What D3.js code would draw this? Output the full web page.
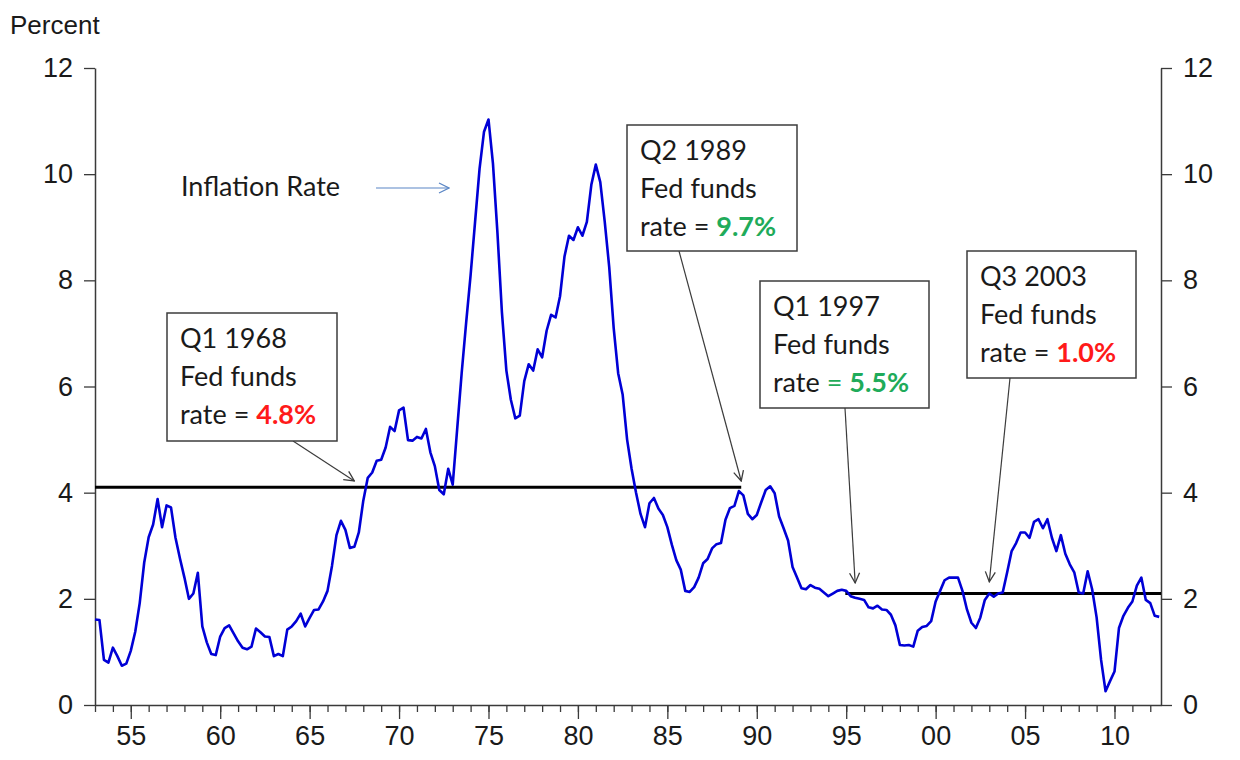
<!DOCTYPE html>
<html>
<head>
<meta charset="utf-8">
<script src="https://cdn.jsdelivr.net/npm/d3@7"></script>
<style>
  body { margin: 0; background: #fff; }
  svg { display: block; }
</style>
</head>
<body>
<div class="chart"></div>
<script>
// quarterly inflation (first value = 1953 Q1)
const startYear = 1953
const infl1950s = [1.61, 1.60, 0.85, 0.80, 1.08, 0.92, 0.74, 0.78, 1.02, 1.38, 1.92, 2.68,
  3.16, 3.40, 3.88, 3.35, 3.76, 3.72, 3.15, 2.76, 2.40, 2.00, 2.10, 2.49, 1.48, 1.18, 0.96, 0.94]
const infl1960s = [1.29, 1.45, 1.50, 1.35, 1.20, 1.08, 1.05, 1.10, 1.44, 1.37, 1.29, 1.28,
  0.92, 0.96, 0.92, 1.42, 1.48, 1.58, 1.72, 1.48, 1.64, 1.79, 1.80, 1.95,
  2.15, 2.62, 3.20, 3.47, 3.30, 2.96, 2.98, 3.25, 3.85, 4.28, 4.38, 4.60, 4.62, 4.85, 5.24, 5.16]
const infl1970s = [5.55, 5.60, 4.99, 4.98, 5.05, 5.02, 5.20, 4.76, 4.50, 4.05, 3.97, 4.45,
  4.15, 5.20, 6.25, 7.20, 8.10, 9.10, 10.10, 10.80, 11.03, 10.20, 8.90, 7.40,
  6.30, 5.75, 5.40, 5.45, 6.10, 6.42, 6.30, 6.70, 6.55, 7.05, 7.35, 7.30, 7.70, 8.45, 8.84, 8.76]
const infl1980s = [9.00, 8.84, 9.10, 9.80, 10.18, 9.85, 9.10, 8.25, 7.10, 6.25, 5.85, 5.00,
  4.45, 4.00, 3.60, 3.35, 3.80, 3.90, 3.70, 3.58, 3.35, 3.02, 2.73, 2.55,
  2.15, 2.13, 2.22, 2.40, 2.67, 2.75, 2.95, 3.03, 3.05, 3.49, 3.71, 3.75, 4.03, 3.95, 3.60, 3.50]
const infl1990s = [3.58, 3.82, 4.05, 4.12, 3.99, 3.55, 3.33, 3.10, 2.60, 2.40, 2.20, 2.18,
  2.26, 2.21, 2.19, 2.12, 2.05, 2.10, 2.15, 2.17, 2.15, 2.05, 2.02, 2.00,
  1.98, 1.84, 1.82, 1.87, 1.80, 1.79, 1.70, 1.50, 1.13, 1.12, 1.13, 1.10, 1.40, 1.47, 1.49, 1.58]
const infl2000s = [1.95, 2.15, 2.35, 2.40, 2.40, 2.40, 2.15, 1.80, 1.55, 1.45, 1.65, 1.98,
  2.10, 2.04, 2.10, 2.12, 2.50, 2.90, 3.05, 3.25, 3.25, 3.15, 3.45, 3.50,
  3.33, 3.50, 3.15, 2.90, 3.20, 2.85, 2.65, 2.50, 2.12, 2.10, 2.52, 2.18, 1.65, 0.85, 0.26, 0.45]
const infl2010s = [0.63, 1.45, 1.68, 1.83, 1.95, 2.25, 2.40, 1.98, 1.92, 1.68, 1.66]

const yTicks = [0, 2, 4, 6, 8, 10, 12]
const xLabelYears = [1955, 1960, 1965, 1970, 1975, 1980, 1985, 1990, 1995, 2000, 2005, 2010]

// black reference lines
const refFrom = [1953, 1994.95]
const refTo = [1989.13, 2012.6]
const refValue = [4.1, 2.1]

// callouts
const noteTitles = ["Q1 1968", "Q2 1989", "Q1 1997", "Q3 2003"]
const noteRates = ["4.8%", "9.7%", "5.5%", "1.0%"]
const noteTipYear = [1967.5, 1989.13, 1995.5, 2003.0]
const noteTipValue = [4.22, 4.22, 2.3, 2.32]

const inflation = [].concat(infl1950s, infl1960s, infl1970s, infl1980s, infl1990s, infl2000s, infl2010s)
  .map((v, i) => ({ t: startYear + i / 4, v: v }))

// layout
const W = 1240, H = 760
const plotLeft = 95, plotRight = 1161, plotTop = 68, plotBottom = 705
const tickFont = "Liberation Sans, Arial, sans-serif"
const noteFont = "Lato, 'Open Sans', sans-serif"
const boxes = [
  { x: 167, y: 313, w: 170, h: 128, sx: 293, sy: 441, rateColor: "#ff1a1a", eqColored: false },
  { x: 627, y: 125, w: 170, h: 126, sx: 679, sy: 251, rateColor: "#1fab5a", eqColored: false },
  { x: 760, y: 281, w: 169, h: 127, sx: 845, sy: 408, rateColor: "#1fab5a", eqColored: true },
  { x: 967, y: 251, w: 169, h: 127, sx: 1010, sy: 378, rateColor: "#ff1a1a", eqColored: false }
]

const svg = d3.select(".chart")
  .append("svg")
  .attr("width", W)
  .attr("height", H)

const defs = svg.append("defs")
function openArrow(id, color) {
  defs.append("marker")
    .attr("id", id)
    .attr("viewBox", "0 0 12 12")
    .attr("refX", 11).attr("refY", 6)
    .attr("markerWidth", 12).attr("markerHeight", 12)
    .attr("markerUnits", "userSpaceOnUse")
    .attr("orient", "auto")
    .append("path")
    .attr("d", "M1,1 L11,6 L1,11")
    .attr("fill", "none")
    .attr("stroke", color)
    .attr("stroke-width", 1.3)
}
openArrow("grayArrow", "#3c3c3c")
openArrow("blueArrow", "#5a86c5")

const x = d3.scaleLinear().domain([1953, 2012.6]).range([plotLeft, plotRight])
const y = d3.scaleLinear().domain([0, 12]).range([plotBottom, plotTop])

const axisColor = "#3a3a3a"
function styleAxis(g, size) {
  g.select(".domain").attr("stroke", axisColor).attr("stroke-width", 1.5)
  g.selectAll(".tick line").attr("stroke", axisColor).attr("stroke-width", 1.3)
  g.selectAll(".tick text")
    .attr("fill", "#1a1a1a")
    .style("font-family", tickFont)
    .style("font-size", size + "px")
}

// left and right y axes
svg.append("g")
  .attr("transform", `translate(${plotLeft},0)`)
  .call(d3.axisLeft(y).tickValues(yTicks).tickSize(11).tickSizeOuter(0).tickPadding(11))
  .call(g => styleAxis(g, 27))

svg.append("g")
  .attr("transform", `translate(${plotRight},0)`)
  .call(d3.axisRight(y).tickValues(yTicks).tickSize(11).tickSizeOuter(0).tickPadding(11))
  .call(g => styleAxis(g, 27))

// x axis: yearly minor ticks, labels every 5 years
const everyYear = d3.range(1953, 2013)
svg.append("g")
  .attr("transform", `translate(0,${plotBottom})`)
  .call(d3.axisBottom(x).tickValues(everyYear).tickSize(7).tickSizeOuter(0).tickFormat(""))
  .call(g => styleAxis(g, 27))

svg.append("g")
  .attr("transform", `translate(0,${plotBottom})`)
  .call(d3.axisBottom(x).tickValues(xLabelYears).tickSize(14).tickSizeOuter(0).tickPadding(7)
    .tickFormat(d => String(d % 100).padStart(2, "0")))
  .call(g => styleAxis(g, 27))
  .call(g => g.select(".domain").remove())

svg.append("text")
  .attr("x", 10).attr("y", 34)
  .attr("fill", "#1a1a1a")
  .style("font-family", tickFont)
  .style("font-size", "26px")
  .text("Percent")

// reference lines
refValue.forEach((v, i) => {
  svg.append("line")
    .attr("x1", x(refFrom[i])).attr("x2", x(refTo[i]))
    .attr("y1", y(v)).attr("y2", y(v))
    .attr("stroke", "#000")
    .attr("stroke-width", 3)
})

// inflation line
svg.append("path")
  .datum(inflation)
  .attr("fill", "none")
  .attr("stroke", "#0000d6")
  .attr("stroke-width", 2.6)
  .attr("stroke-linejoin", "round")
  .attr("d", d3.line().x(d => x(d.t)).y(d => y(d.v)))

// "Inflation Rate" label with its arrow
svg.append("text")
  .attr("x", 181).attr("y", 196)
  .attr("fill", "#1a1a1a")
  .style("font-family", noteFont)
  .style("font-size", "27px")
  .text("Inflation Rate")

svg.append("line")
  .attr("x1", 376).attr("y1", 188)
  .attr("x2", 449).attr("y2", 188)
  .attr("stroke", "#5a86c5")
  .attr("stroke-width", 1.2)
  .attr("marker-end", "url(#blueArrow)")

// callout boxes
boxes.forEach((b, i) => {
  svg.append("line")
    .attr("x1", b.sx).attr("y1", b.sy)
    .attr("x2", x(noteTipYear[i])).attr("y2", y(noteTipValue[i]))
    .attr("stroke", "#3c3c3c")
    .attr("stroke-width", 1.2)
    .attr("marker-end", "url(#grayArrow)")

  svg.append("rect")
    .attr("x", b.x).attr("y", b.y)
    .attr("width", b.w).attr("height", b.h)
    .attr("fill", "#fff")
    .attr("stroke", "#3c3c3c")
    .attr("stroke-width", 1.5)

  const t = svg.append("text")
    .attr("fill", "#1a1a1a")
    .style("font-family", noteFont)
    .style("font-size", "27px")
  t.append("tspan").attr("x", b.x + 13).attr("y", b.y + 35).text(noteTitles[i])
  t.append("tspan").attr("x", b.x + 13).attr("y", b.y + 73).text("Fed funds")
  t.append("tspan").attr("x", b.x + 13).attr("y", b.y + 111).text("rate ")
  t.append("tspan").attr("fill", b.eqColored ? b.rateColor : "#1a1a1a").text("= ")
  t.append("tspan").attr("fill", b.rateColor).attr("font-weight", "bold").text(noteRates[i])
})
</script>
</body>
</html>
